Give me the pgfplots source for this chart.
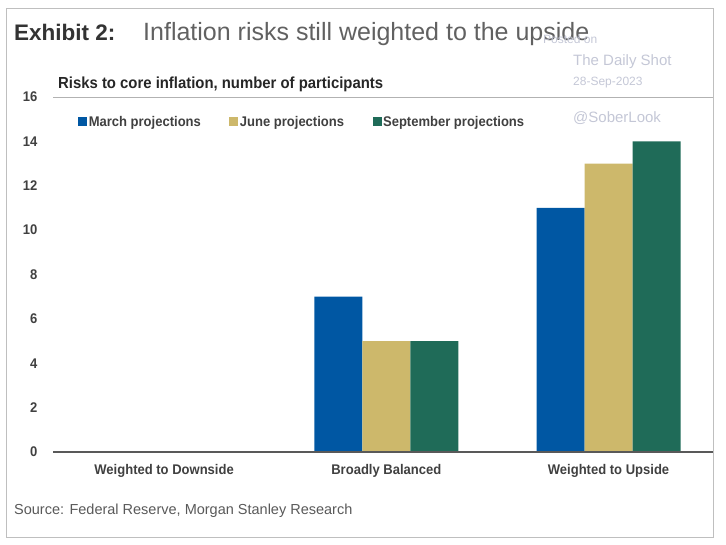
\documentclass[border=0pt]{standalone}
\usepackage{fontspec}
\setmainfont{Liberation Sans}
\newfontfamily\cond[FakeStretch=0.93]{Liberation Sans}
\usepackage{pgfplots}
\pgfplotsset{compat=1.18}
\definecolor{cmar}{HTML}{0057A3}
\definecolor{cjun}{HTML}{CDB86B}
\definecolor{csep}{HTML}{1F6B58}
\definecolor{wm}{HTML}{C4C7D6}
\begin{document}
\begin{tikzpicture}[x=1pt,y=1pt]
\path (0,0) rectangle (726,544);
\draw[black!25, line width=0.8pt] (6,7) rectangle (713,536);
\node[anchor=base west, inner sep=0, font=\fontsize{22.5}{27}\selectfont\bfseries, text=black!80] at (14,503) {Exhibit 2:};
\node[anchor=base west, inner sep=0, font=\fontsize{25}{29}\selectfont, text=black!62] at (143,503) {Inflation risks still weighted to the upside};
\node[anchor=base west, inner sep=0, font=\cond\fontsize{16}{19}\selectfont\bfseries, text=black!85] at (58,455) {Risks to core inflation, number of participants};
\node[anchor=base west, inner sep=0, font=\fontsize{12}{14}\selectfont, text=wm] at (543,500) {Posted on};
\node[anchor=base west, inner sep=0, font=\fontsize{15}{18}\selectfont, text=wm] at (573,478) {The Daily Shot};
\node[anchor=base west, inner sep=0, font=\fontsize{12}{14}\selectfont, text=wm] at (573,458) {28-Sep-2023};
\node[anchor=base west, inner sep=0, font=\fontsize{15}{18}\selectfont, text=wm] at (573,421) {@SoberLook};
\node[anchor=base west, inner sep=0, font=\fontsize{14.5}{17}\selectfont, text=black!65] at (14,30) {Source: Federal Reserve, Morgan Stanley Research};
\begin{axis}[
  at={(53pt,92pt)}, anchor=south west, scale only axis,
  width=660pt, height=355pt,
  xmin=-0.5, xmax=2.47, ymin=0, ymax=16,
  axis line style={draw=none}, major tick length=0pt,
  ytick={0,2,...,16},
  xtick={0,1,2},
  xticklabels={Weighted to Downside, Broadly Balanced, Weighted to Upside},
  /pgf/number format/assume math mode=true,
  yticklabel style={font=\cond\fontsize{14}{16}\selectfont\bfseries, text=black!75, xshift=-12pt},
  xticklabel style={font=\cond\fontsize{14}{16}\selectfont\bfseries, text=black!75, yshift=-9pt},
  ybar=0pt, bar width=48pt,
  legend columns=3,
  legend style={at={(rel axis cs:0.038,0.93)}, anchor=west, draw=none, fill=none,
    font=\cond\fontsize{14}{16}\selectfont\bfseries, text=black!75,
    inner sep=0pt,
    nodes={inner sep=1.5pt},
    /tikz/every even column/.append style={column sep=27pt}},
  legend image code/.code={\fill[#1, draw=none] (0pt,-4.5pt) rectangle (9pt,4.5pt);},
  clip=false,
]
\addplot[fill=cmar, draw=none] coordinates {(0,0) (1,7) (2,11)};
\addplot[fill=cjun, draw=none] coordinates {(0,0) (1,5) (2,13)};
\addplot[fill=csep, draw=none] coordinates {(0,0) (1,5) (2,14)};
\legend{March projections, June projections, September projections}
\draw[black!30, line width=0.9pt] (axis cs:-0.5,16) -- (axis cs:2.47,16);
\draw[black!65, line width=1.8pt] (axis cs:-0.5,0) -- (axis cs:2.47,0);
\end{axis}
\end{tikzpicture}
\end{document}
